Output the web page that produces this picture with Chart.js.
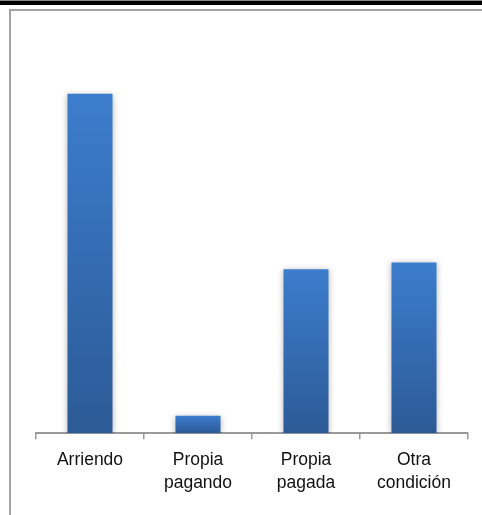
<!DOCTYPE html>
<html>
<head>
<meta charset="utf-8">
<script src="https://cdn.jsdelivr.net/npm/chart.js@4/dist/chart.umd.min.js"></script>
<style>
  html, body { margin: 0; padding: 0; background: #fff; overflow: hidden; }
  #page { position: relative; width: 482px; height: 515px; }
  #topbar { position: absolute; left: 0; top: 0; width: 482px; height: 5px; background: #000; border-top: 1px solid #888; box-sizing: border-box; }
  #frame { position: absolute; left: 9px; top: 9px; width: 490px; height: 520px; border-left: 2px solid #a3a3a3; border-top: 2px solid #a3a3a3; }
  #wrap { position: absolute; left: 0; top: 0; width: 482px; height: 515px; }
</style>
</head>
<body>
<div id="page">
  <div id="topbar"></div>
  <div id="frame"></div>
  <div id="wrap"><canvas id="chart"></canvas></div>
</div>
<script>
// Tenencia de la vivienda (%)
const categories = [['Arriendo'], ['Propia', 'pagando'], ['Propia', 'pagada'], ['Otra', 'condición']];
const values = [49.1, 2.5, 23.7, 24.7];

// soft drop shadow behind the bars
const barShadow = {
    id: 'barShadow',
    beforeDatasetsDraw(chart) {
        const ctx = chart.ctx;
        ctx.save();
        ctx.shadowColor = 'rgba(0, 0, 0, 0.28)';
        ctx.shadowBlur = 6;
        ctx.shadowOffsetX = 0;
        ctx.shadowOffsetY = 1;
    },
    afterDatasetsDraw(chart) {
        chart.ctx.restore();
    }
};

const ctx = document.getElementById('chart').getContext('2d');
new Chart(ctx, {
    type: 'bar',
    data: {
        labels: categories,
        datasets: [{
            data: values,
            backgroundColor: c => {
                const chart = c.chart;
                const area = chart.chartArea;
                if (!area || c.raw === undefined) return '#3570b8';
                const top = chart.scales.y.getPixelForValue(c.raw);
                const g = chart.ctx.createLinearGradient(0, top, 0, area.bottom);
                g.addColorStop(0, '#3c7dcd');
                g.addColorStop(1, '#2c5a96');
                return g;
            },
            borderWidth: 0,
            barPercentage: 0.417,
            categoryPercentage: 1.0
        }]
    },
    options: {
        responsive: true,
        maintainAspectRatio: false,
        animation: false,
        layout: { padding: { top: 53, left: 36, right: 14, bottom: 10 } },
        plugins: {
            legend: { display: false },
            title: { display: false },
            tooltip: { enabled: false }
        },
        scales: {
            y: {
                display: false,
                min: 0,
                max: 55
            },
            x: {
                offset: true,
                grid: {
                    display: true,
                    offset: true,
                    drawOnChartArea: false,
                    drawTicks: true,
                    tickLength: 6,
                    color: '#9a9a9a',
                    lineWidth: 1.5
                },
                border: { display: true, color: '#9a9a9a', width: 2 },
                ticks: {
                    color: '#111',
                    padding: 10,
                    maxRotation: 0,
                    font: { family: 'Liberation Sans', size: 17.5, lineHeight: 1.31 }
                }
            }
        }
    },
    plugins: [barShadow]
});
</script>
</body>
</html>
